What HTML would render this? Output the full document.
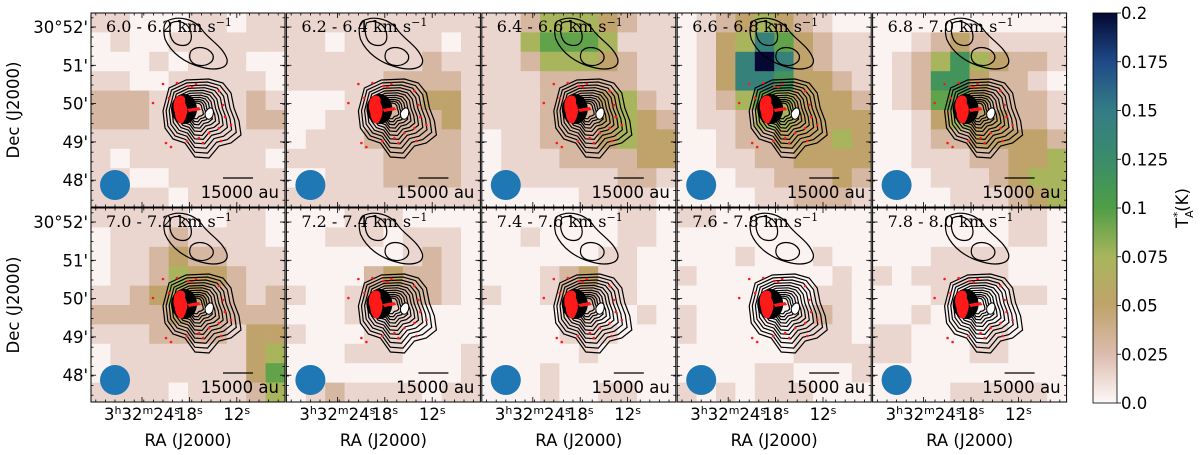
<!DOCTYPE html>
<html><head><meta charset="utf-8">
<style>
html,body{margin:0;padding:0;background:#fff;}
svg{display:block;font-family:"DejaVu Sans","Liberation Sans",sans-serif;}
</style></head>
<body>
<svg id="fig" width="1200" height="455" viewBox="0 0 1200 455" xmlns="http://www.w3.org/2000/svg">
<defs>
<linearGradient id="cbg" x1="0" y1="1" x2="0" y2="0">
<stop offset="0" stop-color="#fdf8f8"/>
<stop offset="0.125" stop-color="#dcbcae"/>
<stop offset="0.25" stop-color="#c0a36b"/>
<stop offset="0.375" stop-color="#a8b55c"/>
<stop offset="0.5" stop-color="#4f9e46"/>
<stop offset="0.625" stop-color="#3a8c6a"/>
<stop offset="0.75" stop-color="#347c86"/>
<stop offset="0.875" stop-color="#1f4a88"/>
<stop offset="1" stop-color="#040832"/>
</linearGradient>
</defs>
<g id="panels"></g>
<g id="cbar"></g>
</svg>
<script>
const channelLabels = ["6.0 - 6.2","6.2 - 6.4","6.4 - 6.6","6.6 - 6.8","6.8 - 7.0","7.0 - 7.2","7.2 - 7.4","7.4 - 7.6","7.6 - 7.8","7.8 - 8.0"];
// intensity level (K) for each grid code 0-9, A
const levelValues = [0.002,0.014,0.03,0.05,0.075,0.095,0.115,0.14,0.16,0.18,0.2];
const grid1 = ["1100011011","0100111111","0001011100","1100111110","2221111121","2221111122","1111111111","1011111110","1100111111","1111011111"];
const grid2 = ["1111111111","1101111101","1111111211","1111122221","0001122331","0011122231","0111222221","1111122221","0011122221","1111111111"];
const grid3 = ["1124443211","1145554111","1124443211","1112222211","1112223421","1112223432","0112223433","0111222233","0111111221","0000011110"];
const grid4 = ["0123432100","0134753211","0137A73211","0137763321","0124543332","0112443333","0012233343","0011223333","0001122232","0000112221"];
const grid5 = ["0000000000","0012321111","0124643221","0126632210","0125532221","0013433221","0012233332","0011122334","0001112344","0000111234"];
const grid6 = ["1111100110","0111211110","0112322111","0112433211","1123432212","2222322222","1112222133","0111111134","0111111135","1111011124"];
const grid7 = ["0001110000","0011101110","0000001210","0000232210","1001222210","0001111000","1000110000","0001110001","0000000001","0121111011"];
const grid8 = ["0000000110","0010000110","0000001100","0001231100","1001221100","0000110010","0000111000","0000010000","0001000000","0001001100"];
const grid9 = ["1100000000","0000000000","0001000100","1000000010","0000000110","1000001210","1000001110","0000001111","0000110001","1010111000"];
const grid10 = ["0000000110","0000000110","0001111000","1011111000","0001000110","0010000000","1100001000","1100011000","0000000000","0000111110"];
const grids = [grid1,grid2,grid3,grid4,grid5,grid6,grid7,grid8,grid9,grid10];
const decTicks = ["30°52'","51'","50'","49'","48'"];
const decTickVals = [52,51,50,49,48];
const raTickVals = [24,18,12];
const cbarTicks = [0,0.025,0.05,0.075,0.1,0.125,0.15,0.175,0.2];
const cbarTickLabels = ["0.0","0.025","0.05","0.075","0.1","0.125","0.15","0.175","0.2"];

const NS="http://www.w3.org/2000/svg";
function mk(tag,attrs,parent){const e=document.createElementNS(NS,tag);for(const k in attrs)e.setAttribute(k,attrs[k]);if(parent)parent.appendChild(e);return e;}

const stops=[[0,[253,248,248]],[0.025,[220,188,174]],[0.05,[192,163,107]],[0.075,[168,181,92]],[0.1,[79,158,70]],[0.125,[58,140,106]],[0.15,[52,124,134]],[0.175,[31,74,136]],[0.2,[4,8,50]]];
function cmap(v){v=Math.max(0,Math.min(0.2,v));for(let i=1;i<stops.length;i++){if(v<=stops[i][0]){const a=stops[i-1],b=stops[i];const t=(v-a[0])/(b[0]-a[0]);const c=a[1].map((x,j)=>Math.round(x+(b[1][j]-x)*t));return `rgb(${c[0]},${c[1]},${c[2]})`;}}return "rgb(4,8,50)";}

const PW=194, PH=194;
const FS=16.5;
function px(i){return 91+i*195.4;}
function py(r){return 13+r*195;}
function decY(d){return 14+(52-d)*38.3;}
function raX(s){return 51+(24-s)*7.9;}

const outer=[[78,75],[95,67],[118,66],[132,70],[140,80],[143,95],[148,108],[150,122],[140,130],[128,133],[118,145],[104,144],[94,130],[82,126],[74,115],[72,98]];
const cen=[97,98];
function shapePath(k,dx,dy){return "M"+outer.map(p=>[(cen[0]+(p[0]-cen[0])*k+dx).toFixed(1),(cen[1]+(p[1]-cen[1])*k+dy).toFixed(1)].join(",")).join(" L")+" Z";}
const dots=[[72,71],[78,85],[86,70],[97,73],[101,74],[105,71],[128,78],[132,92],[134,104],[128,115],[118,120],[108,125],[75,130],[80,134],[96,128],[130,128],[112,130],[140,112],[62,90]];

const root=document.getElementById('panels');
for(let n=0;n<10;n++){
  const col=n%5,row=Math.floor(n/5);
  const x0=px(col),y0=py(row);
  const g=mk('g',{transform:`translate(${x0},${y0})`},root);
  
  
  const cg=mk('clipPath',{id:'cp'+n},g);mk('rect',{x:0,y:0,width:PW,height:PH},cg);
  const inner=mk('g',{'clip-path':`url(#cp${n})`},g);
  const hm=mk('g',{},inner);
  
  
  const gr=grids[n];const cs=PW/10;
  for(let r=0;r<10;r++)for(let c=0;c<10;c++){
    const ch=gr[r][c];const li=ch==='A'?10:parseInt(ch);
    const cell=mk('rect',{x:(c*cs).toFixed(2),y:(r*cs).toFixed(2),width:(cs+0.3).toFixed(2),height:(cs+0.3).toFixed(2),fill:cmap(levelValues[li])},hm);
    
    
  }
  const ct=mk('g',{fill:'none',stroke:'#000','stroke-width':1.2},inner);
  
  
  mk('path',{d:"M76,8 C88,2 104,6 112,18 C120,28 132,34 136,46 C138,56 124,58 110,54 C94,50 80,40 74,26 C72,18 72,12 76,8 Z"},ct);
  mk('path',{d:"M80,10 C88,6 98,10 100,20 C102,30 96,34 88,32 C80,30 77,20 80,10 Z"},ct);
  mk('path',{d:"M100,38 C106,32 118,34 122,42 C124,50 114,54 106,52 C99,50 97,44 100,38 Z"},ct);
  const ks=[1,0.9,0.8,0.71,0.62,0.54,0.46,0.39,0.32,0.26,0.2];
  ks.forEach((k,i)=>mk('path',{d:shapePath(k,(1-k)*6,(1-k)*-2)},ct));
  mk('ellipse',{cx:93,cy:96,rx:13,ry:15,fill:'#000'},inner);
  mk('path',{d:"M114,100 C118,92 124,94 122,102 C120,108 114,108 114,100 Z",fill:'#fff',stroke:'#000','stroke-width':1},inner);
  const rd=mk('g',{fill:'#ff1a1a'},inner);
  
  
  mk('path',{d:"M84,86 C88,80 96,82 94,90 C98,96 96,104 92,110 C88,112 84,106 84,100 C82,96 82,90 84,86 Z"},rd);
  mk('path',{d:"M96,96 L108,94 L110,97 L98,99 Z"},rd);
  dots.forEach(d=>mk('circle',{cx:d[0],cy:d[1],r:1.3},rd));
  const bm=mk('circle',{cx:24,cy:172,r:15,fill:'#1f77b4'},inner);
  
  
  const sb=mk('line',{x1:132,y1:165,x2:162,y2:165,stroke:'#000','stroke-width':1.2},inner);
  
  
  const st=mk('text',{x:188,y:185,'text-anchor':'end','font-size':FS,fill:'#000'},inner);
  st.textContent='15000 au';
  
  
  const tt=mk('text',{x:15,y:19,'font-size':16,fill:'#000','font-family':'DejaVu Serif, Liberation Serif, serif'},inner);
  tt.innerHTML=channelLabels[n]+' km s<tspan dy="-6" font-size="11">−1</tspan>';
  
  
  mk('rect',{x:0,y:0,width:PW,height:PH,fill:'none',stroke:'#000','stroke-width':1},g);
  const tk=mk('g',{stroke:'#000','stroke-width':0.8},g);
  
  
  for(let t=4.8;t<PW;t+=9.6){mk('line',{x1:t,y1:0,x2:t,y2:2.5},tk);mk('line',{x1:t,y1:PH,x2:t,y2:PH-2.5},tk);mk('line',{x1:0,y1:t,x2:2.5,y2:t},tk);mk('line',{x1:PW,y1:t,x2:PW-2.5,y2:t},tk);}
  decTickVals.forEach(d=>{mk('line',{x1:0,y1:decY(d),x2:5,y2:decY(d)},tk);mk('line',{x1:PW,y1:decY(d),x2:PW-5,y2:decY(d)},tk);});
  raTickVals.forEach(s=>{mk('line',{x1:raX(s),y1:PH,x2:raX(s),y2:PH-5},tk);mk('line',{x1:raX(s),y1:0,x2:raX(s),y2:5},tk);});
  if(col===0){
    decTickVals.forEach((d,i)=>{const t=mk('text',{x:-3,y:decY(d)+6,'text-anchor':'end','font-size':FS},g);t.textContent=decTicks[i];
      
      });
    const yl=mk('text',{x:0,y:0,transform:`translate(-72,${PH/2}) rotate(-90)`,'text-anchor':'middle','font-size':FS},g);
    yl.textContent='Dec (J2000)';
    
    
  }
  if(row===1){
    raTickVals.forEach((s,i)=>{const t=mk('text',{x:raX(s),y:PH+18,'text-anchor':'middle','font-size':FS},g);
      t.innerHTML=(i===0?'3<tspan dy="-6" font-size="11">h</tspan><tspan dy="6">32</tspan><tspan dy="-6" font-size="11">m</tspan><tspan dy="6">24</tspan>':s)+'<tspan dy="-6" font-size="11">s</tspan>';
      
      });
    const xl=mk('text',{x:PW/2,y:PH+44,'text-anchor':'middle','font-size':FS},g);
    xl.textContent='RA (J2000)';
    
    
  }
}
const cb=document.getElementById('cbar');
const CBX=1093,CBY=13,CBW=24,CBH=390;
function cbY(v){return CBY+CBH*(1-v/0.2);}
mk('rect',{x:CBX,y:CBY,width:CBW,height:CBH,fill:'url(#cbg)',stroke:'#000','stroke-width':0.8},cb);
cbarTicks.forEach((v,i)=>{mk('line',{x1:CBX+CBW,y1:cbY(v),x2:CBX+CBW+4,y2:cbY(v),stroke:'#000','stroke-width':0.8},cb);
  const t=mk('text',{x:CBX+CBW+4,y:cbY(v)+6,'font-size':FS},cb);t.textContent=cbarTickLabels[i];
  
  });
const cl=mk('text',{x:0,y:0,transform:'translate(1188,208) rotate(-90)','text-anchor':'middle','font-size':FS},cb);
cl.innerHTML='T<tspan dy="5" font-size="11">A</tspan><tspan dy="-12" dx="-7" font-size="11">*</tspan><tspan dy="7">(K)</tspan>';


</script>
</body></html>
